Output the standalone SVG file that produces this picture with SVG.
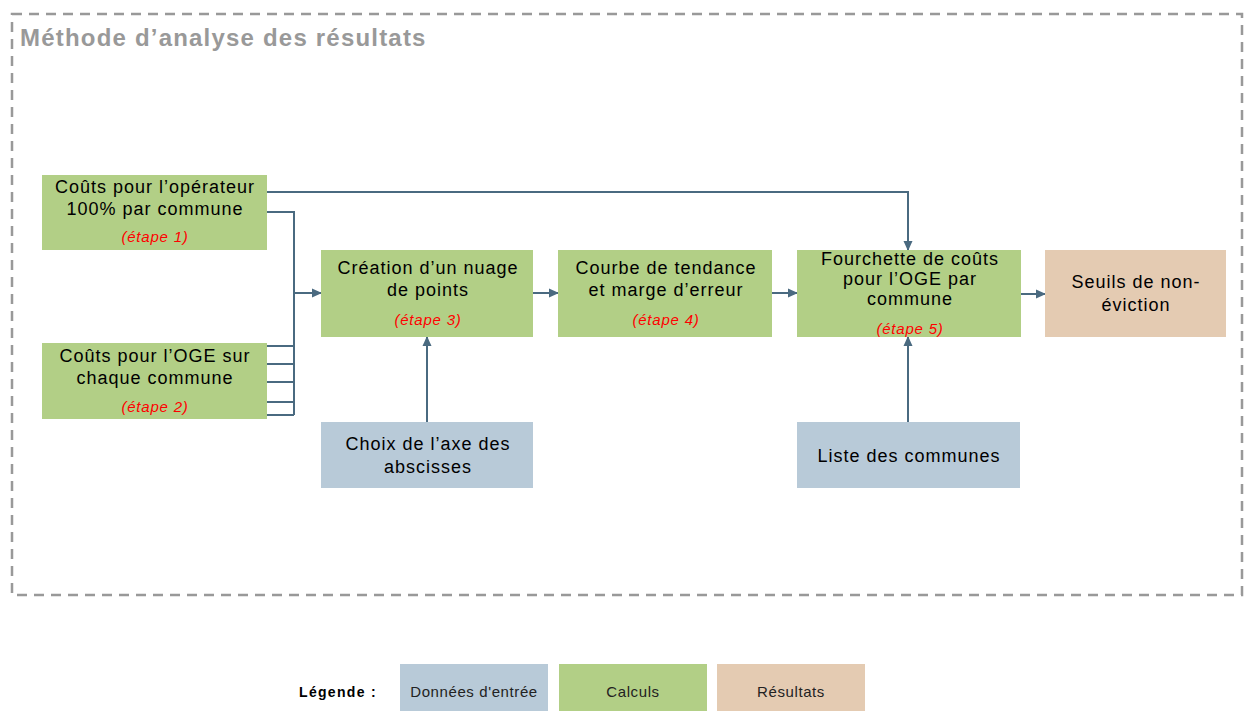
<svg xmlns="http://www.w3.org/2000/svg" width="1246" height="711" viewBox="0 0 1246 711">
<defs>
<marker id="ah" markerWidth="10" markerHeight="10" refX="9" refY="5" orient="auto" markerUnits="userSpaceOnUse">
<path d="M0,0.5 L10,5 L0,9.5 Z" fill="#4a6a80"/>
</marker>
<style>
.calc{fill:#b2cf86}
.input{fill:#b8cad8}
.res{fill:#e4cbb2}
.t{font-family:"Liberation Sans",Arial,sans-serif;font-size:18px;letter-spacing:1px;fill:#000;text-anchor:middle}
.e{font-family:"Liberation Sans",Arial,sans-serif;font-size:15px;letter-spacing:0.8px;font-style:italic;fill:#ff0000;text-anchor:middle}
.lg{font-family:"Liberation Sans",Arial,sans-serif;font-size:15px;letter-spacing:0.6px;fill:#222;text-anchor:middle}
.c{fill:none;stroke:#4a6a80;stroke-width:2}
</style>
</defs>
<rect width="1246" height="711" fill="#fff"/>
<rect x="12" y="14" width="1230" height="581" fill="none" stroke="#999" stroke-width="2.5" stroke-dasharray="10,7"/>
<text x="20" y="46" font-family="'Liberation Sans',Arial,sans-serif" font-size="24" letter-spacing="1.2" font-weight="bold" fill="#999">Méthode d’analyse des résultats</text>

<g id="connectors">
<path class="c" d="M267,192 H908 V250" marker-end="url(#ah)"/>
<path class="c" d="M267,212 H294 V415"/>
<path class="c" d="M267,346 H294 M267,364 H294 M267,382 H294 M267,402 H294 M267,415 H294"/>
<path class="c" d="M294,293 H321" marker-end="url(#ah)"/>
<path class="c" d="M533,293 H558" marker-end="url(#ah)"/>
<path class="c" d="M772,293 H797" marker-end="url(#ah)"/>
<path class="c" d="M1021,294 H1045" marker-end="url(#ah)"/>
<path class="c" d="M427,422 V337" marker-end="url(#ah)"/>
<path class="c" d="M908,422 V337" marker-end="url(#ah)"/>
</g>

<g id="n1">
<rect class="calc" x="42" y="175" width="225" height="75"/>
<text class="t" x="155" y="193">Coûts pour l’opérateur</text>
<text class="t" x="155" y="215">100% par commune</text>
<text class="e" x="155" y="242">(étape 1)</text>
</g>
<g id="n2">
<rect class="calc" x="42" y="343" width="225" height="76"/>
<text class="t" x="155" y="362">Coûts pour l’OGE sur</text>
<text class="t" x="155" y="384">chaque commune</text>
<text class="e" x="155" y="412">(étape 2)</text>
</g>
<g id="n3">
<rect class="calc" x="321" y="250" width="212" height="87"/>
<text class="t" x="428" y="274">Création d’un nuage</text>
<text class="t" x="428" y="296">de points</text>
<text class="e" x="428" y="325">(étape 3)</text>
</g>
<g id="n4">
<rect class="calc" x="558" y="250" width="214" height="87"/>
<text class="t" x="666" y="274">Courbe de tendance</text>
<text class="t" x="666" y="296">et marge d’erreur</text>
<text class="e" x="666" y="325">(étape 4)</text>
</g>
<g id="n5">
<rect class="calc" x="797" y="250" width="224" height="87"/>
<text class="t" x="910" y="265">Fourchette de coûts</text>
<text class="t" x="910" y="285">pour l’OGE par</text>
<text class="t" x="910" y="305">commune</text>
<text class="e" x="910" y="334">(étape 5)</text>
</g>
<g id="n6">
<rect class="res" x="1045" y="250" width="181" height="87"/>
<text class="t" x="1136" y="288">Seuils de non-</text>
<text class="t" x="1136" y="311">éviction</text>
</g>
<g id="n7">
<rect class="input" x="321" y="422" width="212" height="66"/>
<text class="t" x="428" y="450">Choix de l’axe des</text>
<text class="t" x="428" y="473">abscisses</text>
</g>
<g id="n8">
<rect class="input" x="797" y="422" width="223" height="66"/>
<text class="t" x="909" y="462">Liste des communes</text>
</g>

<g id="legend">
<text x="338" y="697" font-family="'Liberation Sans',Arial,sans-serif" font-size="14" letter-spacing="1.3" font-weight="bold" fill="#000" text-anchor="middle">Légende :</text>
<rect class="input" x="400" y="664" width="148" height="47"/>
<text class="lg" x="474" y="697">Données d'entrée</text>
<rect class="calc" x="559" y="664" width="148" height="47"/>
<text class="lg" x="633" y="697">Calculs</text>
<rect class="res" x="717" y="664" width="148" height="47"/>
<text class="lg" x="791" y="697">Résultats</text>
</g>
</svg>
